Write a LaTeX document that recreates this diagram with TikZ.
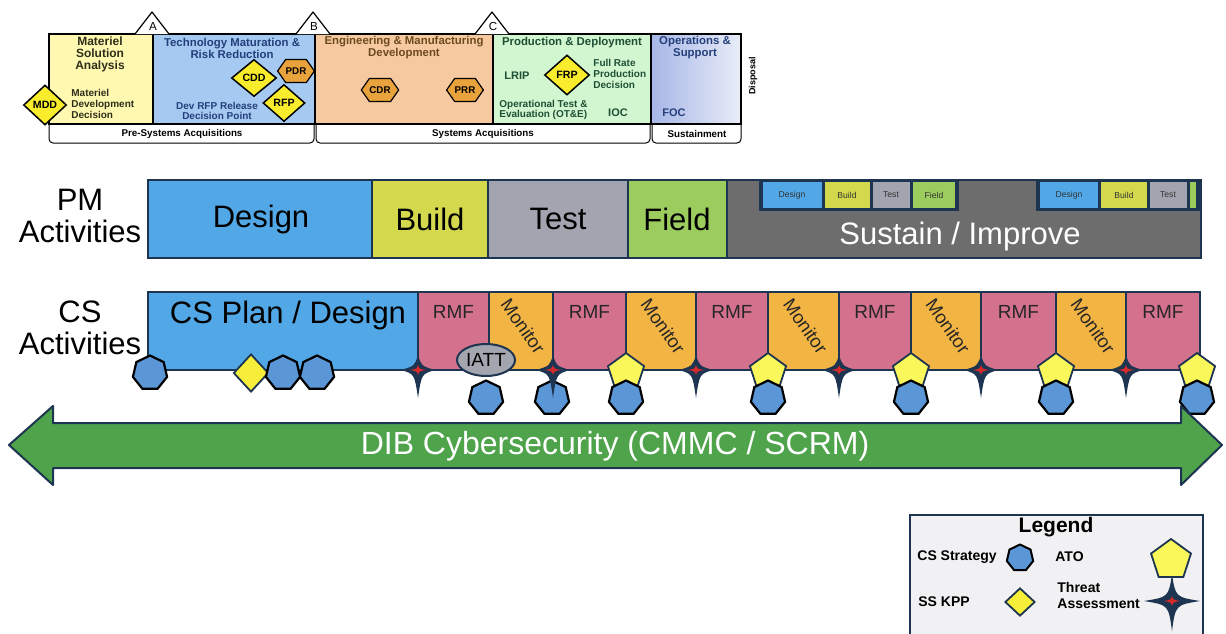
\documentclass[tikz,border=0pt]{standalone}
\usepackage{fontspec}
\setmainfont{Liberation Sans}
\usetikzlibrary{shapes.geometric,shapes.symbols}
\definecolor{navy}{HTML}{1E3552}
\definecolor{pmblue}{HTML}{52A8E6}
\definecolor{pmyel}{HTML}{D3D84C}
\definecolor{pmgray}{HTML}{A2A5AF}
\definecolor{pmgreen}{HTML}{9CCB5E}
\definecolor{sustgray}{HTML}{6D6D6D}
\definecolor{rmfpink}{HTML}{D4728E}
\definecolor{monorange}{HTML}{F2B443}
\definecolor{hepblue}{HTML}{5B96D6}
\definecolor{atoyellow}{HTML}{FAF75A}
\definecolor{kppyellow}{HTML}{F7EE3A}
\definecolor{dibgreen}{HTML}{4FA34B}
\definecolor{iattgray}{HTML}{A3A6AE}
\definecolor{legbg}{HTML}{F1F1F3}
\definecolor{msa}{HTML}{FFF8B0}
\definecolor{tmrr}{HTML}{A6C9F1}
\definecolor{emd}{HTML}{F7C9A1}
\definecolor{pd}{HTML}{D2F6D0}
\definecolor{osl}{HTML}{A7B6E6}
\definecolor{osr}{HTML}{E9EDF8}
\definecolor{milest}{HTML}{F9EC2C}
\definecolor{hexor}{HTML}{E9A33C}
\definecolor{txmsa}{HTML}{2E2E1A}
\definecolor{txblue}{HTML}{233F7C}
\definecolor{txbrown}{HTML}{6B4A1F}
\definecolor{txgreen}{HTML}{1F4F35}
\definecolor{starred}{HTML}{D62A2A}
\tikzset{
  topline/.style={draw=black, line width=0.6pt},
  seg/.style={draw=navy, line width=1pt},
  msdiam/.style={diamond, draw=black, line width=0.75pt, fill=milest, inner sep=0pt, font=\bfseries\fontsize{5.3}{6}\selectfont},
  mshex/.style={signal, signal to=east and west, signal pointer angle=110, draw=black, line width=0.6pt, fill=hexor, inner sep=0pt, minimum width=16.5pt, minimum height=11.5pt, font=\bfseries\fontsize{4.9}{5}\selectfont},
  hdr/.style={font=\bfseries\fontsize{5.7}{6}\selectfont, align=center, inner sep=0pt},
  sml/.style={font=\bfseries\fontsize{5}{5.3}\selectfont, align=left, inner sep=0pt},
  botl/.style={font=\bfseries\fontsize{4.9}{5}\selectfont, inner sep=0pt},
  big/.style={font=\fontsize{15.5}{16}\selectfont, inner sep=0pt, align=center},
  tinyt/.style={font=\fontsize{4.3}{5}\selectfont, text=black!80, inner sep=0pt},
  rmft/.style={font=\fontsize{9.5}{10}\selectfont, text=black!85, inner sep=0pt},
  mont/.style={font=\fontsize{9.3}{10}\selectfont, text=black!85, inner sep=0pt},
  hept/.style={regular polygon, regular polygon sides=7, draw=black, line width=1.1pt, fill=hepblue, inner sep=0pt, minimum size=17.5pt},
  pent/.style={regular polygon, regular polygon sides=5, draw=navy, line width=0.9pt, fill=atoyellow, inner sep=0pt, minimum size=19pt},
  kpp/.style={diamond, draw=navy, line width=0.9pt, fill=kppyellow, inner sep=0pt, minimum width=17.5pt, minimum height=19pt},
  legt/.style={font=\bfseries\fontsize{7}{8}\selectfont, inner sep=0pt},
  pics/threat/.style n args={3}{code={
    \fill[navy] (0,-#1) .. controls (3.5,-4) .. (#2,0) .. controls (3.5,4) .. (0,#3) .. controls (-3.5,4) .. (-#2,0) .. controls (-3.5,-4) .. cycle;
    \fill[starred] (0,-5) .. controls (1.2,-1.2) .. (8,0) .. controls (1.2,1.2) .. (0,5) .. controls (-1.2,1.2) .. (-8,0) .. controls (-1.2,-1.2) .. cycle;
  }}
}
\begin{document}
\begin{tikzpicture}[x=0.5pt,y=-0.5pt]
\useasboundingbox (0,0) rectangle (1226,633);
\fill[white] (0,0) rectangle (1226,633);

% ---------------- top acquisition chart ----------------
\draw[topline, fill=msa] (49,34) rectangle (153,124);
\draw[topline, fill=tmrr] (153,34) rectangle (315,124);
\draw[topline, fill=emd] (315,34) rectangle (493,124);
\draw[topline, fill=pd] (493,34) rectangle (651,124);
\shade[left color=osl, right color=osr] (651,34) rectangle (741,124);
\draw[topline] (651,34) rectangle (741,124);
\draw[topline, line width=0.5pt, rounded corners=2pt] (49,124) -- (49,143) -- (314,143) -- (314,124);
\draw[topline, line width=0.5pt, rounded corners=2pt] (316,124) -- (316,143) -- (650,143) -- (650,124);
\draw[topline, line width=0.5pt, rounded corners=2pt] (652,124) -- (652,143) -- (741,143) -- (741,124);
\draw[topline, fill=white, line join=round] (135,34) -- (152,12) -- (169,34);
\draw[topline, fill=white, line join=round] (296,34) -- (313,12) -- (330,34);
\draw[topline, fill=white, line join=round] (475,34) -- (492,12) -- (509,34);
\node[font=\fontsize{5.8}{6}\selectfont, inner sep=0pt] (msA) at (153,27) {A};
\node[font=\fontsize{5.8}{6}\selectfont, inner sep=0pt] (msB) at (314,27) {B};
\node[font=\fontsize{5.8}{6}\selectfont, inner sep=0pt] (msC) at (493,27) {C};

\node[hdr, text=txmsa, font=\bfseries\fontsize{6}{6}\selectfont] (tmsa) at (100,54) {Materiel\\Solution\\Analysis};
\node[hdr, text=txblue] (ttmrr) at (232,48) {Technology Maturation \&\\Risk Reduction};
\node[hdr, text=txbrown] (temd) at (404,48) {Engineering \& Manufacturing\\Development};
\node[hdr, text=txgreen] (tpd) at (572,43) {Production \& Deployment};
\node[hdr, text=txblue] (tos) at (695,48) {Operations \&\\Support};
\node[sml, text=txmsa, anchor=west] (tmdd) at (71,104) {Materiel\\Development\\Decision};
\node[sml, text=txblue, align=center] (trfp) at (217,111) {Dev RFP Release\\Decision Point};
\node[sml, text=txgreen, anchor=west] (tfrp) at (593,74) {Full Rate\\Production\\Decision};
\node[sml, text=txgreen, font=\bfseries\fontsize{5.5}{6}\selectfont] (tlrip) at (517,76) {LRIP};
\node[sml, text=txgreen, anchor=west] (tote) at (499,110) {Operational Test \&\\Evaluation (OT\&E)};
\node[sml, text=txgreen, font=\bfseries\fontsize{5.5}{6}\selectfont] (tioc) at (618,113) {IOC};
\node[sml, text=txblue, font=\bfseries\fontsize{5.5}{6}\selectfont, anchor=west] (tfoc) at (662,113) {FOC};
\node[font=\bfseries\fontsize{4.5}{5}\selectfont, rotate=90, inner sep=0pt] (tdisp) at (753,76) {Disposal};
\node[botl] (tpre) at (182,134) {Pre-Systems Acquisitions};
\node[botl] (tsys) at (483,134) {Systems Acquisitions};
\node[botl] (tsus) at (697,134) {Sustainment};

\node[msdiam, minimum width=21.5pt, minimum height=20pt] (mdd) at (45,105) {MDD};
\node[msdiam, minimum width=22.5pt, minimum height=18.5pt] (cdd) at (254,78) {CDD};
\node[msdiam, minimum width=21pt, minimum height=18.5pt] (rfp) at (284,103) {RFP};
\node[msdiam, minimum width=22.5pt, minimum height=20pt] (frp) at (567,75) {FRP};
\node[mshex] (pdr) at (296,71) {PDR};
\node[mshex] (cdr) at (380,90) {CDR};
\node[mshex] (prr) at (465,90) {PRR};

% ---------------- PM activities ----------------
\node[big] (pml) at (80,216) {PM\\Activities};
\draw[seg, fill=pmblue] (148,180) rectangle (372,258);
\draw[seg, fill=pmyel] (372,180) rectangle (488,258);
\draw[seg, fill=pmgray] (488,180) rectangle (628,258);
\draw[seg, fill=pmgreen] (628,180) rectangle (727,258);
\draw[seg, fill=sustgray] (727,180) rectangle (1201,258);
\node[big] (pmdes) at (261,219) {Design};
\node[big] (pmbui) at (430,219) {Build};
\node[big] (pmtes) at (558,219) {Test};
\node[big] (pmfie) at (677,219) {Field};
\node[big, text=white] (pmsus) at (960,236) {Sustain / Improve};

\fill[navy] (759,180) rectangle (959,211);
\fill[pmblue] (763,182) rectangle (822,208);
\fill[pmyel] (825,182) rectangle (870,208);
\fill[pmgray] (873,182) rectangle (910,208);
\fill[pmgreen] (913,182) rectangle (955,208);
\node[tinyt] (s1d) at (792,195) {Design};
\node[tinyt] (s1b) at (847,195) {Build};
\node[tinyt] (s1t) at (891,195) {Test};
\node[tinyt] (s1f) at (934,195) {Field};
\fill[navy] (1036,180) rectangle (1200,211);
\fill[pmblue] (1040,182) rectangle (1098,208);
\fill[pmyel] (1101,182) rectangle (1147,208);
\fill[pmgray] (1150,182) rectangle (1187,208);
\fill[pmgreen] (1190,182) rectangle (1196,208);
\node[tinyt] (s2d) at (1069,195) {Design};
\node[tinyt] (s2b) at (1124,195) {Build};
\node[tinyt] (s2t) at (1168,195) {Test};
\draw[seg] (727,180) rectangle (1201,258);

% ---------------- CS activities ----------------
\node[big] (csl) at (80,328) {CS\\Activities};
\draw[seg, fill=pmblue] (148,292) rectangle (418,370);
\node[big] (csplan) at (288,315) {CS Plan / Design};
\foreach \a/\b [count=\i] in {418/489,553/626,696/768,839/911,981/1056,1126/1200} {
  \draw[seg, fill=rmfpink] (\a,292) rectangle (\b,370);
  \node[rmft] (rmf\i) at ({(\a+\b)/2},312) {RMF};
}
\foreach \a/\b [count=\i] in {489/553,626/696,768/839,911/981,1056/1126} {
  \draw[seg, fill=monorange] (\a,292) rectangle (\b,370);
  \node[mont, rotate=-55] (mon\i) at ({(\a+\b)/2+2},326) {Monitor};
}
\node[ellipse, draw=navy, line width=1pt, fill=iattgray, minimum width=29pt, minimum height=16pt, inner sep=0pt, font=\fontsize{9.5}{10}\selectfont] (iatt) at (486,360) {IATT};

\node[kpp] (kpp1) at (251,373) {};
\foreach \x [count=\i] in {150,283,317} \node[hept] (csu\i) at (\x,373) {};
\foreach \x [count=\i] in {626,768,911,1056,1197} \node[pent] (ato\i) at (\x,372) {};
\foreach \x [count=\i] in {486,552,626,768,911,1056,1197} \node[hept] (cslo\i) at (\x,398) {};
\foreach \x [count=\i] in {418,553,696,839,981,1126} \pic (ta\i) at (\x,370) {threat={15}{17}{28}};

% ---------------- DIB arrow ----------------
\draw[line width=1pt, draw=navy, fill=dibgreen, line join=round] (9,445) -- (53,406) -- (53,423) -- (1181,423) -- (1181,406) -- (1222,445) -- (1181,485) -- (1181,468) -- (53,468) -- (53,485) -- cycle;
\node[font=\fontsize{16}{18}\selectfont, text=white, inner sep=0pt] (dib) at (615,446) {DIB Cybersecurity (CMMC / SCRM)};

% ---------------- legend ----------------
\draw[seg, line width=1.2pt, fill=legbg] (910,515) rectangle (1203,650);
\node[font=\bfseries\fontsize{10.5}{12}\selectfont, inner sep=0pt] (legtitle) at (1056,527) {Legend};
\node[legt, anchor=west] (lcs) at (917,557) {CS Strategy};
\node[hept, minimum size=13.5pt, line width=1pt] (lhept) at (1020,558) {};
\node[legt, anchor=west] (lato) at (1055,557) {ATO};
\node[legt, anchor=west] (lkpp) at (918,602) {SS KPP};
\node[kpp, minimum width=15pt, minimum height=14pt] (lkppd) at (1020,602) {};
\node[legt, anchor=west, align=left] (lthr) at (1057,595) {Threat\\Assessment};
\pic (lstar) at (1172,601) {threat={27}{28}{30}};
\node[pent, minimum size=21pt] (lpent) at (1171,560) {};
\end{tikzpicture}
\end{document}
